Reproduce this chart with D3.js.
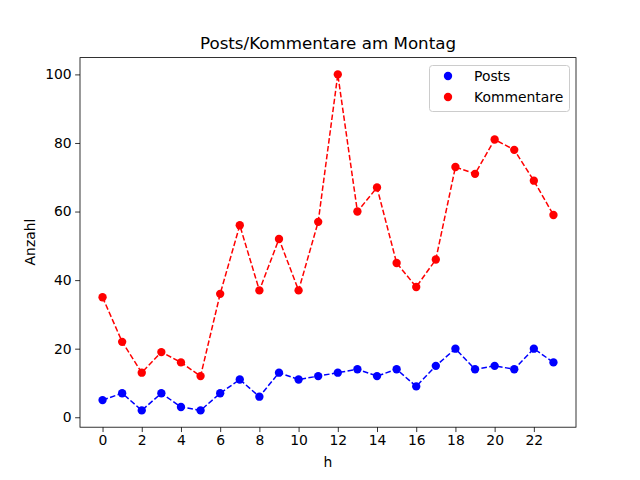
<!DOCTYPE html>
<html><head><meta charset="utf-8">
<script src="https://cdn.jsdelivr.net/npm/d3@7"></script>
<style>body{margin:0;background:#fff}svg text{font-family:"DejaVu Sans",sans-serif;}</style>
</head><body>
<svg id="c" width="640" height="480"></svg>
<script>
const hours = [0,1,2,3,4,5,6,7,8,9,10,11,12,13,14,15,16,17,18,19,20,21,22,23];
const posts = [5,7,2,7,3,2,7,11,6,13,11,12,13,14,12,14,9,15,20,14,15,14,20,16];
const kommentare = [35,22,13,19,16,12,36,56,37,52,37,57,100,60,67,45,38,46,73,71,81,78,69,59];
const xTicks = [0,2,4,6,8,10,12,14,16,18,20,22];
const yTicks = [0,20,40,60,80,100];
const seriesNames = ["Posts","Kommentare"];
const colors = ["#0000ff","#ff0000"];

const svg = d3.select("#c");
const L=80,R=576,T=57.6,B=427.2;
const allY = posts.concat(kommentare);
const ymin=d3.min(allY), ymax=d3.max(allY), yp=(ymax-ymin)*0.05;
const x = d3.scaleLinear().domain([-1.15,24.15]).range([L,R]);
const y = d3.scaleLinear().domain([ymin-yp,ymax+yp]).range([B,T]);

const data=[posts,kommentare];
data.forEach((s,i)=>{
  const line=d3.line().x((d,j)=>x(hours[j])).y(d=>y(d));
  svg.append("path").attr("d",line(s)).attr("fill","none").attr("stroke",colors[i])
    .attr("stroke-width",1.5).attr("stroke-dasharray","5.55,2.4");
  svg.selectAll(null).data(s).enter().append("circle")
    .attr("cx",(d,j)=>x(hours[j])).attr("cy",d=>y(d)).attr("r",4.17).attr("fill",colors[i]);
});

const xa=svg.append("g").attr("transform",`translate(0,${B})`)
  .call(d3.axisBottom(x).tickValues(xTicks).tickSize(4.86).tickPadding(3.5).tickFormat(d3.format("d")));
const ya=svg.append("g").attr("transform",`translate(${L},0)`)
  .call(d3.axisLeft(y).tickValues(yTicks).tickSize(4.86).tickPadding(3.5).tickFormat(d3.format("d")));
[xa,ya].forEach(a=>{a.select(".domain").remove();
  a.selectAll("line").attr("stroke","#000").attr("stroke-width",0.8);
  a.selectAll("text").attr("font-size","13.9px").attr("fill","#000").attr("font-family","DejaVu Sans");});
svg.append("rect").attr("x",L).attr("y",T).attr("width",R-L).attr("height",B-T)
  .attr("fill","none").attr("stroke","#000").attr("stroke-width",0.8);

svg.append("text").attr("x",(L+R)/2).attr("y",49).attr("text-anchor","middle")
  .attr("font-size","16.7px").text("Posts/Kommentare am Montag");
svg.append("text").attr("x",(L+R)/2).attr("y",467).attr("text-anchor","middle")
  .attr("font-size","13.9px").text("h");
svg.append("text").attr("transform","translate(35,242) rotate(-90)").attr("text-anchor","middle")
  .attr("font-size","13.9px").text("Anzahl");

const lg=svg.append("g");
lg.append("rect").attr("x",429.5).attr("y",65.5).attr("width",140).attr("height",46).attr("rx",3)
  .attr("fill","#fff").attr("fill-opacity",0.8).attr("stroke","#ccc").attr("stroke-width",1);
seriesNames.forEach((n,i)=>{
  const yy=76+i*21;
  lg.append("circle").attr("cx",448).attr("cy",yy).attr("r",4.17).attr("fill",colors[i]);
  lg.append("text").attr("x",474).attr("y",yy+5).attr("font-size","13.9px").text(n);
});
</script>
</body></html>
